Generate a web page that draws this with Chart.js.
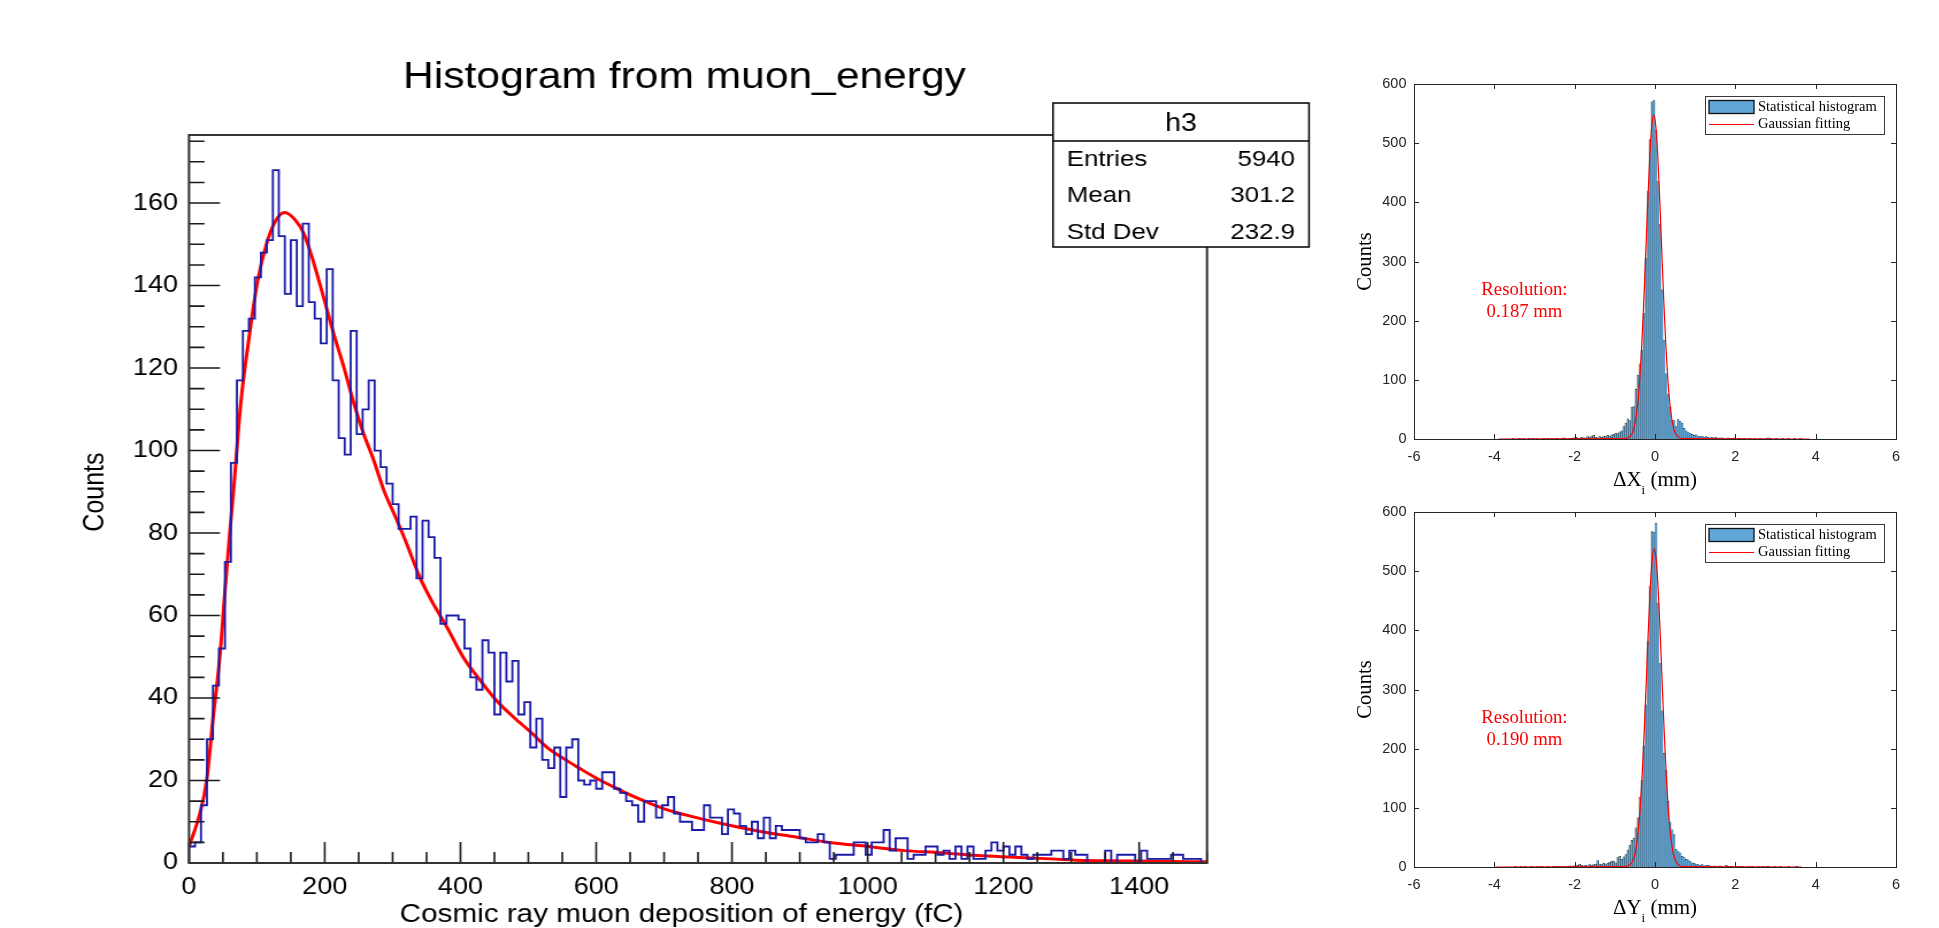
<!DOCTYPE html>
<html>
<head>
<meta charset="utf-8">
<script src="https://cdn.jsdelivr.net/npm/chart.js@4.4.1/dist/chart.umd.min.js"></script>
<style>
  body { margin: 0; background: #fff; width: 1939px; height: 928px; overflow: hidden; position: relative; }
  canvas { position: absolute; }
</style>
</head>
<body>
<canvas id="muon" width="1148" height="928" style="left:0px;top:0px;width:1320px;height:928px"></canvas>
<canvas id="dx" width="600" height="470" style="left:1330px;top:30px;width:600px;height:470px"></canvas>
<canvas id="dy" width="600" height="470" style="left:1330px;top:458px;width:600px;height:470px"></canvas>
<script>
// ---------- left panel: ROOT histogram of muon energy ----------
var muonBinWidth = 1500 / 170;   // fC per bin
var muonCounts = [
  4, 5, 14, 30, 43, 52, 73,
  97, 117, 129, 132, 142, 148, 151, 168, 152, 138, 151, 135, 155, 136, 132, 126, 144, 117, 103, 99, 129, 104, 110, 117, 100, 96, 92, 87,
  81, 81, 84, 69, 83, 79, 74, 58, 60, 60, 59, 52, 45, 42, 54, 51, 36, 51, 44, 49, 36, 39, 28, 35, 25, 23, 28, 16, 28, 30,
  20, 19, 20, 18, 22, 22, 18, 17, 15, 14, 10, 15, 15, 11, 14, 16, 12,
  10, 10, 8, 8, 14, 11, 11, 7, 13, 12, 9, 7, 10, 6, 11, 6, 9, 8, 8, 8,
  6, 5, 5, 7, 5, 1, 2, 2, 2, 5, 5, 2, 5, 5, 8, 3, 6, 6, 1, 2,
  2, 4, 4, 2, 3, 1, 4, 1, 4, 1, 1, 3, 5, 3, 4, 2, 4, 2, 1, 2,
  2, 2, 3, 3, 1, 3, 2, 2, 0, 0, 0, 3, 0, 2, 2, 2, 0, 3, 1, 1,
  1, 1, 2, 2, 1, 1, 1, 0
];
// red fit curve
var fitX = [0, 16, 26, 36, 46, 53, 60, 65, 76, 89, 101, 114, 127, 141, 156, 169, 184, 198,
  213, 228, 243, 257, 272, 287, 306, 321, 340, 360, 380, 404, 429, 453, 478, 503, 527, 552, 576, 601,
  625, 650, 674, 699, 733, 786, 840, 894, 947, 1001, 1054, 1108, 1161, 1215, 1269, 1322, 1376, 1429, 1500];
var fitY = [4, 12, 20, 36, 51, 66, 80, 89, 111, 128, 141, 150, 155.5, 157.7, 156, 152.7, 145.4, 137.3,
  128.4, 120.3, 111.4, 104.2, 97.7, 90.4, 83.2, 77.3, 69.3, 62.8, 57.2, 49.9, 44.3, 39.4, 35.4, 31.8, 28.1, 25.3, 22.9, 20.5,
  18.5, 16.5, 14.8, 13.2, 11.6, 9.5, 7.7, 6.3, 4.9, 4.0, 3.0, 2.5, 1.8, 1.4, 1.0, 0.6, 0.5, 0.4, 0.3];
var muonXTicks = [0, 200, 400, 600, 800, 1000, 1200, 1400];
var muonYTicks = [0, 20, 40, 60, 80, 100, 120, 140, 160];
var statsTitle = 'h3';
var statsRows = [['Entries', '5940'], ['Mean', '301.2'], ['Std Dev', '232.9']];

// ---------- right panels: MATLAB resolution histograms ----------
var resBinStart = -3.6, resBinWidth = 0.05;
var dxCounts = [
  0, 1, 0, 0, 1, 0, 1, 0, 0, 1,
  0, 1, 0, 1, 0, 0, 1, 0, 1, 0,
  1, 0, 1, 1, 0, 1, 2, 1, 0, 1,
  1, 2, 3, 2, 1, 3, 2, 2, 4, 3,
  5, 6, 3, 2, 4, 3, 5, 4, 6, 5,
  7, 8, 10, 9, 12, 14, 21, 27, 34, 31,
  54, 55, 84, 108, 127, 150, 212, 305, 418, 506,
  570, 573, 522, 435, 363, 252, 167, 110, 75, 54,
  31, 31, 21, 33, 30, 27, 18, 14, 11, 9,
  8, 6, 7, 5, 4, 5, 3, 4, 3, 2,
  3, 2, 3, 1, 2, 2, 1, 0, 2, 1,
  1, 2, 0, 1, 1, 0, 1, 0, 0, 1,
  0, 1, 0, 0, 1, 0, 0, 1, 2, 1,
  0, 0, 1, 0, 0, 1, 0, 0, 1, 0,
  0, 1, 0, 0, 1, 0
];
var dyCounts = [
  0, 0, 1, 0, 0, 1, 0, 1, 0, 0,
  1, 0, 0, 1, 0, 1, 0, 0, 1, 0,
  0, 1, 1, 0, 1, 0, 1, 0, 1, 2,
  1, 2, 2, 3, 5, 3, 2, 3, 2, 4,
  3, 4, 5, 11, 5, 4, 6, 4, 6, 8,
  10, 10, 7, 16, 18, 13, 17, 21, 29, 37,
  45, 49, 66, 83, 118, 147, 204, 274, 381, 475,
  567, 566, 581, 446, 344, 264, 192, 164, 111, 76,
  63, 55, 30, 26, 24, 18, 16, 13, 12, 9,
  7, 6, 5, 4, 3, 4, 2, 3, 3, 2,
  1, 2, 1, 1, 2, 1, 0, 3, 1, 1,
  1, 0, 1, 0, 1, 1, 0, 0, 1, 0,
  1, 0, 0, 1, 0, 1, 0, 1, 1, 0,
  0, 1, 0, 0, 1, 0, 0, 0, 1, 0,
  0, 0, 1, 0, 0, 0
];
var dxFitX = [-3.9, -0.78, -0.68, -0.58, -0.53, -0.48, -0.43, -0.38, -0.33, -0.28, -0.23, -0.18, -0.13, -0.08, -0.03,
  0.02, 0.07, 0.12, 0.17, 0.22, 0.27, 0.32, 0.37, 0.42, 0.47, 0.52, 0.62, 0.72, 3.85];
var dxFitY = [0, 0.6, 1.6, 8, 17, 33, 60, 100, 158, 231, 315, 401, 477, 529, 548,
  529, 477, 401, 315, 231, 158, 100, 60, 33, 17, 8, 1.6, 0.6, 0];
var dyFitX = [-3.97, -0.77, -0.67, -0.57, -0.52, -0.47, -0.42, -0.37, -0.32, -0.27, -0.22, -0.17, -0.12, -0.07, -0.02,
  0.03, 0.08, 0.13, 0.18, 0.23, 0.28, 0.33, 0.38, 0.43, 0.48, 0.53, 0.63, 0.73, 3.65];
var dyFitY = [0, 0.6, 1.6, 8, 17, 32, 59, 98, 155, 227, 309, 394, 468, 519, 538,
  519, 468, 394, 309, 227, 155, 98, 59, 32, 17, 8, 1.6, 0.6, 0];
var resXTicks = [-6, -4, -2, 0, 2, 4, 6];
var resYTicks = [0, 100, 200, 300, 400, 500, 600];

var SANS = '"Liberation Sans", Arial, Helvetica, sans-serif';
var SERIF = '"Liberation Serif", "Times New Roman", serif';

// the ROOT picture is stretched sideways in the figure, so the canvas is drawn narrow and widened by css
var SX = 1320 / 1148;
function px(v) { return v / SX; }
function plain(v) { return String(v); }

var rootDecor = {
  id: 'rootDecor',
  afterDatasetsDraw: function(chart) {
    var ctx = chart.ctx, a = chart.chartArea, x = chart.scales.x, y = chart.scales.y;
    ctx.save();
    // ticks inside the frame
    ctx.strokeStyle = '#1a1a1a';
    ctx.lineWidth = 1.6;
    ctx.beginPath();
    for (var v = 0; v <= 175; v += 5) {
      var py = y.getPixelForValue(v);
      ctx.moveTo(a.left, py);
      ctx.lineTo(a.left + (v % 20 === 0 ? px(31) : px(15.5)), py);
    }
    for (var u = 0; u <= 1500; u += 50) {
      var pxx = x.getPixelForValue(u);
      ctx.moveTo(pxx, a.bottom);
      ctx.lineTo(pxx, a.bottom - (u % 200 === 0 ? 21 : 11));
    }
    ctx.stroke();
    ctx.strokeStyle = '#333';
    ctx.lineWidth = 2;
    ctx.strokeRect(a.left, a.top, a.right - a.left, a.bottom - a.top);

    // title
    ctx.fillStyle = '#000';
    ctx.font = '37px ' + SANS;
    ctx.textAlign = 'center';
    ctx.textBaseline = 'alphabetic';
    ctx.fillText('Histogram from muon_energy', px(684.5), 88);

    // stats box
    var bl = px(1053), br = px(1309), bt = 103, bh = 141, bb = 247;
    ctx.fillStyle = '#fff';
    ctx.fillRect(bl, bt, br - bl, bb - bt);
    ctx.strokeStyle = '#000';
    ctx.lineWidth = 1.5;
    ctx.strokeRect(bl, bt, br - bl, bb - bt);
    ctx.beginPath();
    ctx.moveTo(bl, bh); ctx.lineTo(br, bh);
    ctx.stroke();
    ctx.fillStyle = '#000';
    ctx.textBaseline = 'middle';
    ctx.font = '25px ' + SANS;
    ctx.textAlign = 'center';
    ctx.fillText(statsTitle, (bl + br) / 2, 124);
    ctx.font = '22.5px ' + SANS;
    for (var i = 0; i < statsRows.length; i++) {
      var ry = 160 + i * 36.2;
      ctx.textAlign = 'left';
      ctx.fillText(statsRows[i][0], px(1066.7), ry);
      ctx.textAlign = 'right';
      ctx.fillText(statsRows[i][1], px(1295), ry);
    }
    ctx.restore();
  }
};

var histPoints = [{x: 0, y: 0}];
muonCounts.forEach(function(c, i) { histPoints.push({x: i * muonBinWidth, y: c}); });
histPoints.push({x: muonCounts.length * muonBinWidth, y: muonCounts[muonCounts.length - 1]});
var fitPoints = fitX.map(function(v, i) { return {x: v, y: fitY[i]}; });

var muonCanvas = document.getElementById('muon');
new Chart(muonCanvas, {
  type: 'line',
  data: {
    datasets: [
      { data: histPoints, stepped: true, borderColor: '#1a1aa8', borderWidth: 1.8, pointRadius: 0, fill: false },
      { data: fitPoints, borderColor: '#ff0000', borderWidth: 3, pointRadius: 0, fill: false, cubicInterpolationMode: 'monotone' }
    ]
  },
  options: {
    responsive: false,
    animation: false,
    events: [],
    layout: { padding: { top: 135, right: muonCanvas.width - px(1207), left: 0, bottom: 0 } },
    plugins: { legend: { display: false }, tooltip: { enabled: false }, title: { display: false } },
    scales: {
      x: {
        type: 'linear', min: 0, max: 1500,
        grid: { display: false, drawTicks: false }, border: { display: false },
        afterBuildTicks: function(s) { s.ticks = muonXTicks.map(function(v) { return {value: v}; }); },
        afterFit: function(s) { s.height = 928 - 863; },
        ticks: { padding: 10, color: '#000', font: { family: SANS, size: 23.5 }, maxRotation: 0, autoSkip: false, callback: plain },
        title: { display: true, text: 'Cosmic ray muon deposition of energy (fC)    ', color: '#000',
                 font: { family: SANS, size: 25.8, lineHeight: 1 }, padding: 0 }
      },
      y: {
        type: 'linear', min: 0, max: 176.5,
        grid: { display: false, drawTicks: false }, border: { display: false },
        afterBuildTicks: function(s) { s.ticks = muonYTicks.map(function(v) { return {value: v}; }); },
        afterFit: function(s) { s.width = px(189); },
        ticks: { padding: px(11), color: '#000', font: { family: SANS, size: 23.5 }, autoSkip: false, callback: plain },
        title: { display: true, text: '  Counts', color: '#000',
                 font: { family: SANS, size: 25, lineHeight: 1.2 }, padding: { top: px(96) - 15, bottom: 0 } }
      }
    }
  },
  plugins: [rootDecor]
});

var matlabDecor = {
  id: 'matlabDecor',
  afterDatasetsDraw: function(chart, args, o) {
    var ctx = chart.ctx, a = chart.chartArea, x = chart.scales.x, y = chart.scales.y;
    ctx.save();
    // box with inward ticks on all sides
    ctx.strokeStyle = '#262626';
    ctx.lineWidth = 1;
    ctx.strokeRect(Math.round(a.left) + 0.5, Math.round(a.top) + 0.5,
                   Math.round(a.right - a.left), Math.round(a.bottom - a.top));
    ctx.beginPath();
    resXTicks.forEach(function(v) {
      var p = Math.round(x.getPixelForValue(v)) + 0.5;
      ctx.moveTo(p, a.bottom); ctx.lineTo(p, a.bottom - 5);
      ctx.moveTo(p, a.top); ctx.lineTo(p, a.top + 5);
    });
    resYTicks.forEach(function(v) {
      var p = Math.round(y.getPixelForValue(v)) + 0.5;
      ctx.moveTo(a.left, p); ctx.lineTo(a.left + 5, p);
      ctx.moveTo(a.right, p); ctx.lineTo(a.right - 5, p);
    });
    ctx.stroke();

    // legend
    var fit = chart.data.datasets[0], bar = chart.data.datasets[1];
    var lw = 179, lh = 38, lx = Math.round(a.right - 12 - lw), ly = Math.round(a.top + 12);
    ctx.fillStyle = '#fff';
    ctx.fillRect(lx, ly, lw, lh);
    ctx.strokeStyle = '#3a3a3a';
    ctx.strokeRect(lx + 0.5, ly + 0.5, lw, lh);
    ctx.fillStyle = bar.backgroundColor;
    ctx.fillRect(lx + 4, ly + 4.5, 45, 13);
    ctx.strokeStyle = '#111';
    ctx.lineWidth = 1.3;
    ctx.strokeRect(lx + 4, ly + 4.5, 45, 13);
    ctx.strokeStyle = fit.borderColor;
    ctx.lineWidth = 1;
    ctx.beginPath();
    ctx.moveTo(lx + 4, ly + 28.5); ctx.lineTo(lx + 49, ly + 28.5);
    ctx.stroke();
    ctx.fillStyle = '#000';
    ctx.font = '14.5px ' + SERIF;
    ctx.textAlign = 'left';
    ctx.textBaseline = 'middle';
    ctx.fillText(bar.label, lx + 53, ly + 11);
    ctx.fillText(fit.label, lx + 53, ly + 28);

    // resolution note
    ctx.fillStyle = '#ff0000';
    ctx.font = '18.7px ' + SERIF;
    ctx.textAlign = 'center';
    ctx.fillText('Resolution:', x.getPixelForValue(o.noteX), y.getPixelForValue(o.noteY[0]));
    ctx.fillText(o.res, x.getPixelForValue(o.noteX), y.getPixelForValue(o.noteY[1]));

    // x axis title with subscript
    ctx.fillStyle = '#000';
    ctx.textBaseline = 'alphabetic';
    ctx.textAlign = 'left';
    var main = '\u0394' + o.letter, tail = ' (mm)';
    ctx.font = '21px ' + SERIF;
    var w1 = ctx.measureText(main).width, w3 = ctx.measureText(tail).width;
    ctx.font = '13px ' + SERIF;
    var w2 = ctx.measureText('i').width;
    var x0 = (a.left + a.right) / 2 - (w1 + w2 + w3) / 2, base = a.bottom + 47;
    ctx.font = '21px ' + SERIF;
    ctx.fillText(main, x0, base);
    ctx.fillText(tail, x0 + w1 + w2, base);
    ctx.font = '13px ' + SERIF;
    ctx.fillText('i', x0 + w1, base + 8);
    ctx.restore();
  }
};

function makeRes(id, counts, fx, fy, letter, res) {
  var bars = [];
  counts.forEach(function(c, i) {
    if (c > 0) bars.push({x: resBinStart + (i + 0.5) * resBinWidth, y: c});
  });
  var fit = fx.map(function(v, i) { return {x: v, y: fy[i]}; });
  return new Chart(document.getElementById(id), {
    type: 'bar',
    data: {
      datasets: [
        { type: 'line', label: 'Gaussian fitting', data: fit, borderColor: '#ff0000', borderWidth: 1.2,
          pointRadius: 0, cubicInterpolationMode: 'monotone', order: 0 },
        { type: 'bar', label: 'Statistical histogram', data: bars, backgroundColor: 'rgb(96,166,214)',
          borderColor: '#222', borderWidth: 0.45, barPercentage: 1, categoryPercentage: 1, order: 1 }
      ]
    },
    options: {
      responsive: false,
      animation: false,
      events: [],
      layout: { padding: { top: 54, right: 34, left: 0, bottom: 0 } },
      plugins: {
        legend: { display: false }, tooltip: { enabled: false },
        matlabDecor: { letter: letter, res: res, noteX: -3.25, noteY: [252, 215] }
      },
      scales: {
        x: {
          type: 'linear', min: -6, max: 6, offset: false,
          grid: { display: false, drawTicks: false }, border: { display: false },
          afterBuildTicks: function(s) { s.ticks = resXTicks.map(function(v) { return {value: v}; }); },
          afterFit: function(s) { s.height = 470 - 409; },
          ticks: { padding: 9, color: '#262626', font: { family: SANS, size: 14.5 }, maxRotation: 0, autoSkip: false, callback: plain }
        },
        y: {
          type: 'linear', min: 0, max: 600,
          grid: { display: false, drawTicks: false }, border: { display: false },
          afterBuildTicks: function(s) { s.ticks = resYTicks.map(function(v) { return {value: v}; }); },
          afterFit: function(s) { s.width = 84; },
          ticks: { padding: 7.5, color: '#262626', font: { family: SANS, size: 14.5 }, autoSkip: false, callback: plain },
          title: { display: true, text: 'Counts', color: '#000',
                   font: { family: SERIF, size: 20.6, lineHeight: 1.2 }, padding: { top: 23.6, bottom: 0 } }
        }
      }
    },
    plugins: [matlabDecor]
  });
}

makeRes('dx', dxCounts, dxFitX, dxFitY, 'X', '0.187 mm');
makeRes('dy', dyCounts, dyFitX, dyFitY, 'Y', '0.190 mm');
</script>
</body>
</html>
